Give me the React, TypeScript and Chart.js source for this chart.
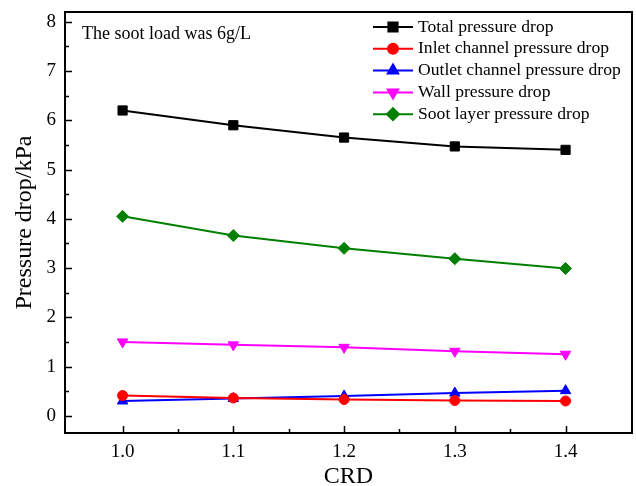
import React, { useEffect, useRef } from "react";
import { Chart, registerables } from "chart.js";
import { drawPoint } from "chart.js/helpers";

Chart.register(...registerables);

const crd = [1.0, 1.1, 1.2, 1.3, 1.4];
const totalDrop = [6.2, 5.9, 5.65, 5.47, 5.4];
const inletDrop = [0.41, 0.36, 0.33, 0.31, 0.3];
const outletDrop = [0.3, 0.35, 0.4, 0.46, 0.51];
const wallDrop = [1.5, 1.44, 1.39, 1.31, 1.25];
const sootDrop = [4.05, 3.66, 3.4, 3.19, 2.99];

const xTicks = [1.0, 1.1, 1.2, 1.3, 1.4];
const xMinorTicks = [1.05, 1.15, 1.25, 1.35];
const yTicks = [0, 1, 2, 3, 4, 5, 6, 7, 8];
const yMinorTicks = [0.5, 1.5, 2.5, 3.5, 4.5, 5.5, 6.5, 7.5];

const seriesNames = [
  "Total pressure drop",
  "Inlet channel pressure drop",
  "Outlet channel pressure drop",
  "Wall pressure drop",
  "Soot layer pressure drop",
];
const seriesData = [totalDrop, inletDrop, outletDrop, wallDrop, sootDrop];
const seriesColors = ["#000000", "#ff0000", "#0000ff", "#ff00ff", "#008000"];
const seriesStyles: any[] = ["rect", "circle", "triangle", "triangle", "rectRot"];
const seriesRotation = [0, 0, 0, 180, 0];
const seriesRadius = [6.5, 5, 6, 6, 6];

const annotation = "The soot load was 6g/L";
const FONT = "'Liberation Serif', 'Times New Roman', serif";

const framePlugin = {
  id: "frame",
  afterDraw(chart: any) {
    const { ctx, chartArea: a, scales } = chart;
    const xs = scales.x;
    const ys = scales.y;
    ctx.save();
    ctx.strokeStyle = "#000";
    ctx.lineWidth = 2;
    ctx.strokeRect(a.left, a.top, a.right - a.left, a.bottom - a.top);
    ctx.lineWidth = 1.5;
    ctx.beginPath();
    for (const v of xTicks) {
      const px = Math.round(xs.getPixelForValue(v)) + 0.5;
      ctx.moveTo(px, a.bottom);
      ctx.lineTo(px, a.bottom - 7);
    }
    for (const v of xMinorTicks) {
      const px = Math.round(xs.getPixelForValue(v)) + 0.5;
      ctx.moveTo(px, a.bottom);
      ctx.lineTo(px, a.bottom - 4);
    }
    for (const v of yTicks) {
      const py = Math.round(ys.getPixelForValue(v)) + 0.5;
      ctx.moveTo(a.left, py);
      ctx.lineTo(a.left + 7, py);
    }
    for (const v of yMinorTicks) {
      const py = Math.round(ys.getPixelForValue(v)) + 0.5;
      ctx.moveTo(a.left, py);
      ctx.lineTo(a.left + 4, py);
    }
    ctx.stroke();

    // annotation
    ctx.fillStyle = "#000";
    ctx.font = `18px ${FONT}`;
    ctx.textBaseline = "middle";
    ctx.textAlign = "left";
    ctx.fillText(annotation, a.left + 17, a.top + 22);

    // legend
    const lx = a.right - 259;
    for (let i = 0; i < seriesNames.length; i++) {
      const y = a.top + 15 + i * 21.8;
      ctx.strokeStyle = seriesColors[i];
      ctx.lineWidth = 2;
      ctx.beginPath();
      ctx.moveTo(lx, y);
      ctx.lineTo(lx + 40, y);
      ctx.stroke();
      ctx.fillStyle = seriesColors[i];
      drawPoint(ctx, {
        pointStyle: seriesStyles[i],
        radius: seriesRadius[i],
        rotation: seriesRotation[i],
        borderWidth: 1,
      } as any, lx + 20, y);
      ctx.fillStyle = "#000";
      ctx.font = `17.6px ${FONT}`;
      ctx.fillText(seriesNames[i], lx + 45, y);
    }
    ctx.restore();
  },
};

export default function App() {
  const ref = useRef<HTMLCanvasElement | null>(null);
  useEffect(() => {
    document.body.style.margin = "0";
    const canvas = ref.current!;
    const chart = new Chart(canvas, {
      type: "line",
      data: {
        datasets: seriesNames.map((name, i) => ({
          label: name,
          data: crd.map((x, j) => ({ x, y: seriesData[i][j] })),
          borderColor: seriesColors[i],
          backgroundColor: seriesColors[i],
          pointBackgroundColor: seriesColors[i],
          pointBorderColor: seriesColors[i],
          pointStyle: seriesStyles[i],
          pointRotation: seriesRotation[i],
          pointRadius: seriesRadius[i],
          pointBorderWidth: 1,
          borderWidth: 2,
          tension: 0,
          fill: false,
        })),
      },
      options: {
        animation: false,
        responsive: false,
        maintainAspectRatio: false,
        layout: { autoPadding: false, padding: { top: 12, right: 4, left: 0, bottom: 0 } },
        plugins: { legend: { display: false }, tooltip: { enabled: false } },
        scales: {
          x: {
            type: "linear",
            min: 0.948,
            max: 1.46,
            grid: { display: false },
            border: { display: false },
            afterBuildTicks: (s: any) => {
              s.ticks = xTicks.map((v) => ({ value: v }));
            },
            afterFit: (s: any) => {
              s.height = 53;
              s.paddingLeft = 0;
              s.paddingRight = 0;
            },
            ticks: {
              color: "#000",
              font: { family: FONT, size: 19 },
              padding: 0,
              maxRotation: 0,
              callback: (v: any) => Number(v).toFixed(1),
            },
            title: {
              display: true,
              text: "CRD",
              color: "#000",
              font: { family: FONT, size: 24, lineHeight: 0.8 },
              padding: { top: 0, bottom: 0 },
            },
          },
          y: {
            type: "linear",
            min: -0.35,
            max: 8.2,
            grid: { display: false },
            border: { display: false },
            afterBuildTicks: (s: any) => {
              s.ticks = yTicks.map((v) => ({ value: v }));
            },
            afterFit: (s: any) => {
              s.width = 65;
              s.paddingTop = 0;
              s.paddingBottom = 0;
            },
            ticks: {
              color: "#000",
              font: { family: FONT, size: 19 },
              padding: 1,
              callback: (v: any) => String(v),
            },
            title: {
              display: true,
              text: "Pressure drop/kPa",
              color: "#000",
              font: { family: FONT, size: 24 },
              padding: { top: 10, bottom: 0 },
            },
          },
        },
      },
      plugins: [framePlugin],
    } as any);
    return () => chart.destroy();
  }, []);
  return (
    <div style={{ position: "absolute", left: 0, top: 0, width: 636, height: 486, background: "#fff" }}>
      <canvas ref={ref} width={636} height={486} style={{ width: 636, height: 486 }} />
    </div>
  );
}
